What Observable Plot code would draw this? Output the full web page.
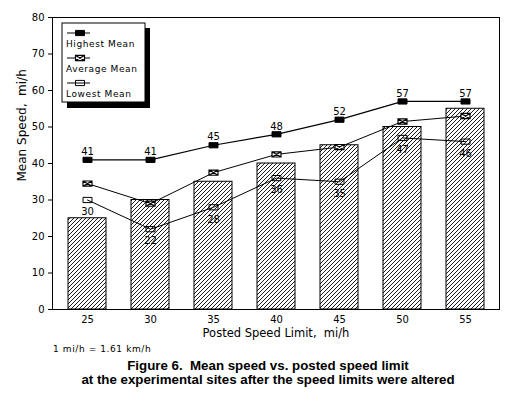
<!DOCTYPE html>
<html>
<head>
<meta charset="utf-8">
<script src="https://cdn.jsdelivr.net/npm/d3@7"></script>
<script src="https://cdn.jsdelivr.net/npm/@observablehq/plot@0.6"></script>
<style>
  body { margin: 0; background: #fff; }
  #wrap { position: relative; width: 516px; height: 402px; overflow: hidden; background: #fff; }
  #note { position: absolute; left: 53px; top: 344px; font: 9px "DejaVu Sans", sans-serif; letter-spacing: 0.6px; color: #000; }
  #cap { position: absolute; left: 0; width: 536px; top: 359px; text-align: center; font: bold 13.3px "Liberation Sans", Arial, sans-serif; line-height: 14px; color: #000; }
</style>
</head>
<body>
<div id="wrap">
  <div id="chart"></div>
  <div id="note">1 mi/h = 1.61 km/h</div>
  <div id="cap">Figure 6.&nbsp; Mean speed vs. posted speed limit<br>at the experimental sites after the speed limits were altered</div>
</div>
<script>
// ---- data ----
const limits = [25, 30, 35, 40, 45, 50, 55];
const highestMean = [41, 41, 45, 48, 52, 57, 57];
const averageMean = [34.5, 29, 37.5, 42.5, 44.5, 51.5, 53];
const lowestMean  = [30, 22, 28, 36, 35, 47, 46];
const yTicks = [0, 10, 20, 30, 40, 50, 60, 70, 80];
const seriesNames = ["Highest Mean", "Average Mean", "Lowest Mean"];
const xLabel = "Posted Speed Limit,  mi/h";
const yLabel = "Mean Speed,  mi/h";

const bars = limits.map(l => ({limit: l, value: l}));
const hi = limits.map((l, i) => ({limit: l, value: highestMean[i]}));
const av = limits.map((l, i) => ({limit: l, value: averageMean[i]}));
const lo = limits.map((l, i) => ({limit: l, value: lowestMean[i]}));

// custom rectangle symbols
const W = 4.5, H = 2.6;
const rectSym = {draw(ctx) { ctx.moveTo(-W, -H); ctx.lineTo(W, -H); ctx.lineTo(W, H); ctx.lineTo(-W, H); ctx.closePath(); }};
const crossSym = {draw(ctx) {
  ctx.moveTo(-W, -H); ctx.lineTo(W, -H); ctx.lineTo(W, H); ctx.lineTo(-W, H); ctx.closePath();
  ctx.moveTo(-W, -H); ctx.lineTo(W, H); ctx.moveTo(W, -H); ctx.lineTo(-W, H);
}};

const numFont = {fontSize: 10, fill: "black", fontFamily: "DejaVu Sans"};

const chart = Plot.plot({
  width: 516,
  height: 342,
  marginLeft: 52,
  marginRight: 17,
  marginTop: 17,
  marginBottom: 33,
  style: {fontFamily: "DejaVu Sans", fontSize: "10px", color: "black", background: "white"},
  x: {type: "band", domain: limits, paddingInner: 0.4, paddingOuter: 0.22},
  y: {domain: [0, 80]},
  marks: [
    Plot.barY(bars, {x: "limit", y: "value", fill: "url(#hatch)", stroke: "black", strokeWidth: 1}),
    Plot.line(hi, {x: "limit", y: "value", stroke: "black", strokeWidth: 1.2}),
    Plot.line(av, {x: "limit", y: "value", stroke: "black", strokeWidth: 1}),
    Plot.line(lo, {x: "limit", y: "value", stroke: "black", strokeWidth: 1}),
    Plot.dot(hi, {x: "limit", y: "value", symbol: rectSym, fill: "black", stroke: "black", strokeWidth: 1}),
    Plot.dot(av, {x: "limit", y: "value", symbol: crossSym, fill: "white", stroke: "black", strokeWidth: 1.2}),
    Plot.dot(lo, {x: "limit", y: "value", symbol: rectSym, fill: "none", stroke: "black", strokeWidth: 1}),
    Plot.text(hi, {x: "limit", y: "value", text: d => String(d.value), dy: -8, ...numFont, style: "letter-spacing:1.5px"}),
    Plot.text(lo, {x: "limit", y: "value", text: d => String(d.value), dy: 12, ...numFont, style: "letter-spacing:1.5px"}),
    Plot.frame({stroke: "black", strokeWidth: 1}),
    Plot.axisY({ticks: yTicks, tickSize: 4, tickPadding: 4, label: null, fontSize: 10, style: "letter-spacing:1px"}),
    Plot.axisX({tickSize: 0, tickPadding: 6, label: null, fontSize: 10, style: "letter-spacing:2px"}),
    Plot.text([xLabel], {frameAnchor: "bottom", lineAnchor: "middle", dy: 24, fontSize: 11.5, fill: "black", style: "letter-spacing:1px"}),
    Plot.text([yLabel], {frameAnchor: "left", dx: -30, dy: 18, rotate: -90, fontSize: 12, fill: "black", style: "letter-spacing:1px"})
  ]
});

document.getElementById("chart").appendChild(chart);

// hatch pattern definition
const svg = d3.select(chart);
const defs = svg.insert("defs", ":first-child");
const pat = defs.append("pattern").attr("id", "hatch").attr("patternUnits", "userSpaceOnUse")
  .attr("width", 4).attr("height", 4);
pat.append("rect").attr("width", 4).attr("height", 4).attr("fill", "white");
pat.append("path").attr("d", "M-1,1 l2,-2 M0,4 l4,-4 M3,5 l2,-2").attr("stroke", "black").attr("stroke-width", 0.9);

// legend box with drop shadow
const lg = svg.append("g").attr("font-family", "DejaVu Sans").attr("font-size", 9).attr("text-anchor", "start");
lg.append("rect").attr("x", 67).attr("y", 28).attr("width", 83).attr("height", 80).attr("fill", "black");
lg.append("rect").attr("x", 62).attr("y", 23).attr("width", 83).attr("height", 79).attr("fill", "white").attr("stroke", "black").attr("stroke-width", 1);
const syms = [
  {sym: rectSym, fill: "black", sw: 1},
  {sym: crossSym, fill: "white", sw: 1.2},
  {sym: rectSym, fill: "none", sw: 1}
];
const rowY = [33, 58, 83];
seriesNames.forEach((name, i) => {
  const y = rowY[i];
  lg.append("line").attr("x1", 67).attr("x2", 90).attr("y1", y).attr("y2", y).attr("stroke", "black").attr("stroke-width", 1);
  lg.append("path").attr("transform", `translate(80,${y})`).attr("d", d3.symbol().type(syms[i].sym)())
    .attr("fill", syms[i].fill).attr("stroke", "black").attr("stroke-width", syms[i].sw);
  lg.append("text").attr("x", 66).attr("y", y + 14).attr("fill", "black").attr("text-anchor", "start")
    .style("letter-spacing", "0.6px").text(name);
});
</script>
</body>
</html>
